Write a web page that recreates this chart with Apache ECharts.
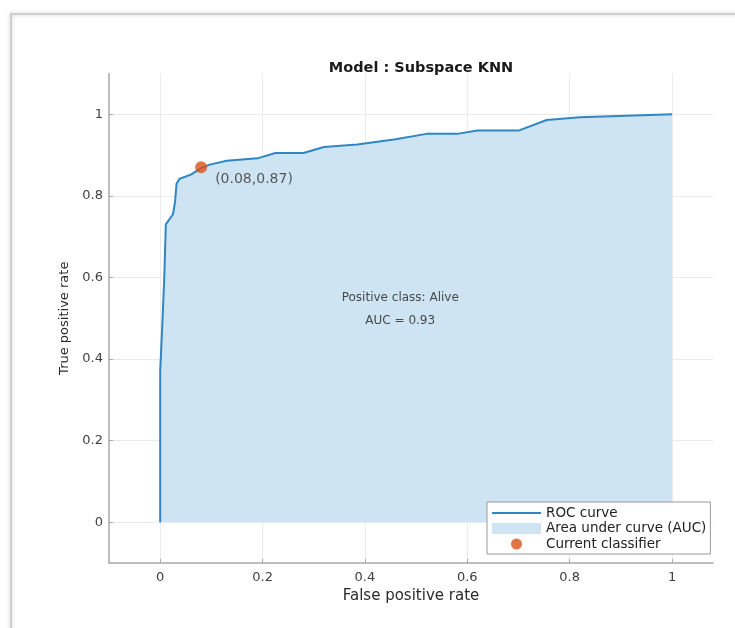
<!DOCTYPE html>
<html>
<head>
<meta charset="utf-8">
<script src="https://cdn.jsdelivr.net/npm/echarts@6/dist/echarts.min.js"></script>
<style>
html,body{margin:0;padding:0;background:#fff;}
#chart{width:735px;height:628px;}
</style>
</head>
<body>
<div id="chart"></div>
<script>
// ROC curve points (false positive rate, true positive rate)
const fpr = [0, 0, 0.004, 0.008, 0.011, 0.025, 0.029, 0.032, 0.038, 0.06, 0.08, 0.095, 0.13, 0.19, 0.225, 0.28, 0.32, 0.385, 0.46, 0.52, 0.58, 0.62, 0.70, 0.755, 0.82, 1.0];
const tpr = [0, 0.37, 0.48, 0.60, 0.73, 0.755, 0.785, 0.83, 0.842, 0.852, 0.868, 0.876, 0.886, 0.892, 0.905, 0.905, 0.92, 0.926, 0.939, 0.952, 0.952, 0.96, 0.96, 0.986, 0.993, 1.0];
const currentClassifier = [0.08, 0.87];
const currentLabel = '(0.08,0.87)';
const annotationPos = [0.469, 0.522];
const annotationText = ['Positive class: Alive', 'AUC = 0.93'];
const xTicks = [0, 0.2, 0.4, 0.6, 0.8, 1];
const yTicks = [0, 0.2, 0.4, 0.6, 0.8, 1];
const legendNames = ['ROC curve', 'Area under curve (AUC)', 'Current classifier'];
const titleText = 'Model : Subspace KNN';
const xName = 'False positive rate';
const yName = 'True positive rate';

const FONT = 'DejaVu Sans';
const lineColor = '#2f86c4';
const fillColor = '#cfe4f2';
const dotColor = '#d95319';
const axisGray = '#a8a8a8';

const rocData = fpr.map((x, i) => [x, tpr[i]]);

const chart = echarts.init(document.getElementById('chart'), null, {renderer: 'canvas'});

const axisCommon = {
  type: 'value',
  nameLocation: 'middle',
  axisLine: {show: true, onZero: false, lineStyle: {color: axisGray, width: 1.5}},
  axisTick: {show: true, inside: true, length: 4, lineStyle: {color: axisGray, width: 1}},
  splitLine: {show: true, lineStyle: {color: '#ebebeb', width: 1}},
  axisLabel: {color: '#3f3f3f', fontFamily: FONT, fontSize: 13, formatter: v => String(+v.toFixed(2))}
};

chart.setOption({
  backgroundColor: '#fff',
  animation: false,
  title: {
    text: titleText,
    left: 416,
    top: 56,
    textAlign: 'center',
    textStyle: {fontFamily: FONT, fontSize: 14.5, fontWeight: 'bold', color: '#1a1a1a'}
  },
  grid: {left: 109, right: 22, top: 73.5, bottom: 65, containLabel: false},
  xAxis: Object.assign({}, axisCommon, {
    min: -0.1, max: 1.08,
    name: xName, nameGap: 26,
    nameTextStyle: {fontFamily: FONT, fontSize: 15, color: '#2a2a2a'},
    axisTick: Object.assign({}, axisCommon.axisTick, {customValues: xTicks}),
    axisLabel: Object.assign({}, axisCommon.axisLabel, {customValues: xTicks, margin: 8})
  }),
  yAxis: Object.assign({}, axisCommon, {
    min: -0.1, max: 1.1,
    name: yName, nameGap: 37,
    nameTextStyle: {fontFamily: FONT, fontSize: 13, color: '#2a2a2a'},
    axisTick: Object.assign({}, axisCommon.axisTick, {customValues: yTicks}),
    axisLabel: Object.assign({}, axisCommon.axisLabel, {customValues: yTicks, margin: 6})
  }),
  legend: {
    orient: 'vertical',
    left: 487, top: 502,
    itemWidth: 49, itemHeight: 11, itemGap: 1.5,
    padding: [4, 4, 3, 5],
    backgroundColor: '#fff',
    borderColor: '#9a9a9a', borderWidth: 1,
    selectedMode: false,
    textStyle: {fontFamily: FONT, fontSize: 13.5, color: '#222'},
    data: [
      {name: legendNames[0], icon: 'path://M0,0H50V2H0Z', itemStyle: {color: lineColor, borderWidth: 0}},
      {name: legendNames[1], icon: 'rect', itemStyle: {color: fillColor, borderWidth: 0}},
      {name: legendNames[2], icon: 'circle', itemStyle: {color: dotColor, borderWidth: 0}}
    ]
  },
  graphic: [{
    type: 'rect',
    shape: {x: 11, y: 14, width: 740, height: 640},
    style: {fill: 'none', stroke: '#cfcfcf', lineWidth: 2, shadowBlur: 4, shadowColor: 'rgba(0,0,0,0.2)'},
    silent: true, z: 100
  }],
  series: [
    {
      name: legendNames[1],
      type: 'line',
      data: rocData,
      symbol: 'none',
      color: fillColor,
      lineStyle: {width: 0, color: fillColor},
      areaStyle: {color: fillColor, opacity: 1},
      silent: true,
      z: 1
    },
    {
      name: legendNames[0],
      type: 'line',
      data: rocData,
      symbol: 'none',
      color: lineColor,
      lineStyle: {width: 2, color: lineColor},
      silent: true,
      z: 2
    },
    {
      name: legendNames[2],
      type: 'scatter',
      data: [currentClassifier],
      symbolSize: 12,
      itemStyle: {color: dotColor},
      label: {
        show: true, formatter: currentLabel, position: 'right', distance: 8, offset: [0, 12],
        fontFamily: FONT, fontSize: 14, color: '#333'
      },
      z: 3
    },
    {
      name: 'annotation',
      type: 'scatter',
      data: [annotationPos],
      symbolSize: 0,
      silent: true,
      label: {
        show: true, position: 'inside', formatter: annotationText.join('\n'),
        fontFamily: FONT, fontSize: 12, lineHeight: 23, color: '#222', align: 'center'
      },
      z: 3
    }
  ]
});
</script>
</body>
</html>
